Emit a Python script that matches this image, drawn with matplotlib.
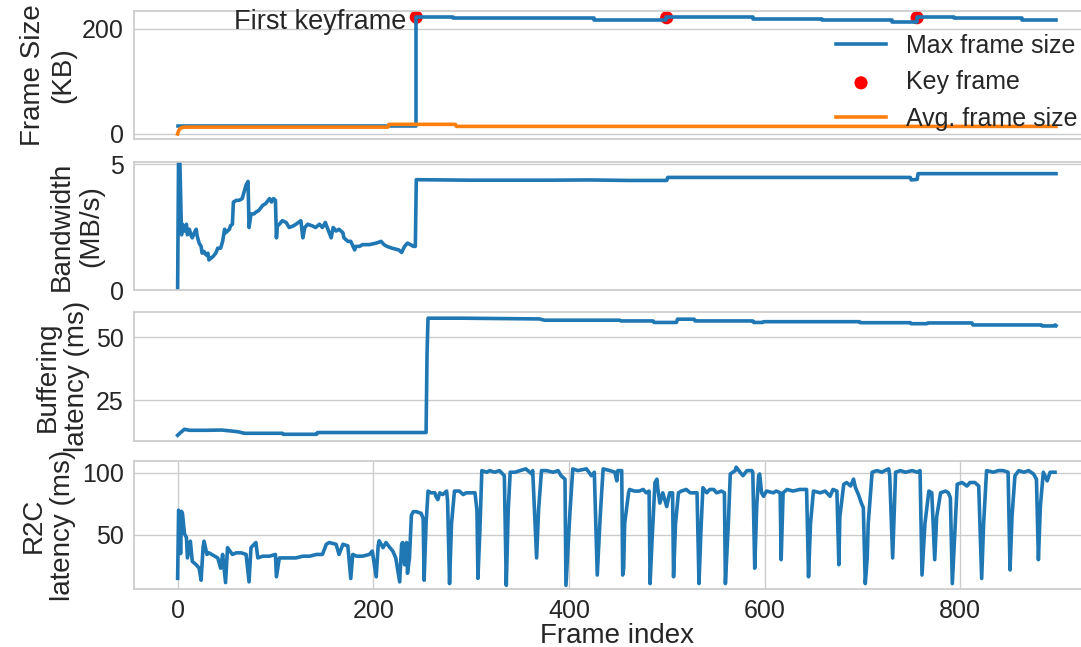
import matplotlib
matplotlib.use("Agg")
import matplotlib.pyplot as plt

# ---------------- data ----------------
# Max frame size: change points (frame index, KB) drawn as steps
max_frame_idx = [0, 244, 282, 426, 499, 588, 659, 730, 756, 794, 863, 898]
max_frame_kb = [15, 222.7, 220.8, 216.2, 222.0, 218.8, 216.2, 213.0, 222.7, 220.0, 217.5, 217.5]

# Key frames
key_frame_idx = [244, 500, 756]
key_frame_kb = [222, 221, 221]

# Average frame size
avg_frame_idx = [0, 1, 2, 3, 5, 8, 215, 216, 284, 285, 898]
avg_frame_kb = [0, 6, 9, 11, 12.5, 13, 13, 18.3, 18.3, 14.4, 14.4]

# Bandwidth (MB/s)
bw_idx = [0, 1, 2, 4, 5, 7, 9, 10, 12, 14, 15, 17, 19, 20, 22, 24, 25, 27, 29, 31, 32, 34, 36,
          39, 41, 44, 46, 48, 49, 53, 54, 56, 57, 60, 63, 66, 68, 70, 72, 73, 75, 78, 80, 83, 87,
          90, 94, 96, 98, 100, 101, 102, 104, 107, 111, 114, 118, 121, 126, 128, 130, 133, 138,
          141, 145, 148, 150, 151, 155, 157, 159, 162, 165, 169, 170, 174, 177, 181, 182, 186,
          189, 196, 203, 208, 211, 214, 219, 226, 229, 232, 235, 238, 241, 243, 244, 300, 380,
          420, 460, 500, 501, 749, 750, 756, 757, 898]
bw_mbs = [0, 5.6, 5.6, 2.2, 2.62, 2.35, 2.62, 2.2, 2.42, 2.15, 2.08, 2.28, 2.42, 2.15, 1.87, 1.74,
          1.47, 1.54, 1.40, 1.47, 1.2, 1.27, 1.33, 1.47, 1.67, 1.67, 1.94, 2.42, 2.28, 2.42, 2.56,
          2.62, 3.5, 3.57, 3.57, 3.64, 3.91, 4.18, 4.32, 2.49, 3.03, 3.03, 3.1, 3.17, 3.37, 3.44,
          3.64, 3.5, 3.64, 3.57, 2.08, 2.55, 2.62, 2.76, 2.69, 2.49, 2.55, 2.62, 2.76, 2.08, 2.49,
          2.62, 2.55, 2.49, 2.62, 2.49, 2.62, 2.69, 2.28, 2.08, 2.49, 2.35, 2.42, 2.28, 2.08, 1.94,
          1.94, 1.6, 1.74, 1.74, 1.81, 1.81, 1.87, 1.94, 1.81, 1.74, 1.67, 1.6, 1.5, 1.74, 1.87,
          1.81, 1.74, 1.74, 4.39, 4.37, 4.37, 4.38, 4.36, 4.36, 4.48, 4.48, 4.38, 4.40, 4.63, 4.63]

# Buffering latency (ms)
buf_idx = [0, 3, 7, 12, 30, 45, 55, 62, 68, 107, 108, 142, 143, 254, 255, 256, 290, 370, 375,
           452, 453, 486, 487, 510, 511, 528, 529, 588, 589, 598, 599, 697, 698, 749, 750, 766,
           767, 812, 813, 883, 884, 896, 897, 898]
buf_ms = [10.9, 12.0, 13.3, 12.9, 12.9, 13.0, 12.6, 12.3, 11.7, 11.7, 11.3, 11.3, 12.0, 12.0,
          44.0, 57.7, 57.7, 57.4, 56.9, 56.9, 56.6, 56.6, 56.0, 56.0, 57.3, 57.3, 56.6, 56.6,
          56.0, 56.0, 56.3, 56.3, 55.9, 55.9, 55.5, 55.5, 55.8, 55.8, 55.0, 55.0, 54.6, 54.6,
          55.0, 54.7]

# R2C latency (ms)
r2c_idx = [0, 1, 2, 3, 4, 5, 7, 9, 10, 13, 15, 19, 22, 24, 26, 27, 30, 32, 38, 41, 44, 46, 49,
           51, 56, 60, 65, 70, 73, 75, 80, 82, 87, 94, 100, 101, 104, 111, 121, 128, 135, 142,
           148, 152, 155, 162, 165, 169, 174, 177, 179, 183, 189, 196, 199, 203, 205, 206, 210,
           213, 217, 220, 223, 227, 229, 230, 232, 234, 235, 237, 239, 241, 244, 249, 251, 252,
           254, 256, 259, 263, 264, 266, 268, 271, 275, 276, 278, 280, 283, 288, 292, 295, 299,
           304, 306, 307, 309, 311, 316, 319, 324, 329, 334, 336, 338, 340, 345, 350, 356, 362,
           363, 367, 369, 372, 377, 384, 389, 392, 396, 397, 401, 404, 409, 418, 423, 426, 429,
           432, 435, 442, 447, 449, 450, 454, 455, 456, 457, 461, 462, 467, 472, 476, 479, 482,
           483, 485, 488, 490, 491, 493, 496, 500, 503, 506, 507, 509, 512, 515, 520, 524, 529,
           531, 533, 535, 537, 541, 544, 548, 551, 556, 559, 560, 563, 565, 570, 571, 575, 578,
           582, 587, 588, 590, 592, 594, 595, 597, 599, 602, 609, 612, 616, 617, 619, 623, 629,
           636, 643, 645, 647, 650, 657, 662, 667, 670, 674, 676, 677, 681, 684, 688, 691, 693,
           696, 699, 701, 703, 705, 706, 710, 715, 720, 723, 727, 728, 731, 734, 739, 744, 751,
           756, 759, 761, 764, 768, 771, 774, 776, 780, 785, 788, 790, 792, 795, 797, 802, 807,
           810, 815, 819, 822, 824, 827, 834, 839, 844, 849, 851, 853, 856, 860, 865, 870, 875,
           878, 880, 882, 885, 889, 892, 897]
r2c_ms = [15, 70, 66, 35, 69, 67, 51, 48, 31.5, 45, 28.7, 26, 23.2, 13.5, 39.8, 45, 34.3, 35.6,
          32.9, 31.5, 23.2, 34.3, 11.6, 39.8, 34.3, 35.6, 35.6, 34.3, 12.2, 39.8, 43.9, 31.5,
          32.9, 32.9, 34.3, 16.3, 31.5, 31.5, 31.5, 32.9, 32.9, 34.3, 34.3, 42.5, 43.9, 42.5,
          34.3, 42.5, 41.2, 14.9, 34.3, 32.9, 32.9, 34.3, 37, 16.3, 41.2, 45.3, 39.8, 43.9, 39.8,
          37, 31.5, 12.2, 42.5, 43.9, 26, 43.9, 19.1, 31.5, 66, 68.8, 68.8, 67.4, 63.3, 13.5,
          59.1, 85.4, 84, 84, 81.2, 78.5, 84, 82.6, 85.4, 77.1, 10.8, 59.1, 85.4, 85.4, 82.6, 84,
          84, 84, 70, 15, 53.6, 101.9, 100.6, 101.9, 100.6, 101.9, 97.8, 9.4, 70.2, 100.6, 100.6,
          101.9, 103.3, 99.2, 101.9, 31.5, 70.2, 101.9, 101.9, 100.6, 101.9, 97.8, 95, 9.4, 67.4,
          103.3, 101.9, 103.3, 97.8, 100.6, 17.7, 64.6, 103.3, 101.9, 100.6, 93.6, 101.9, 101.9,
          17.7, 23.2, 59.1, 84, 86.7, 85.4, 85.4, 86.7, 84, 85.4, 10.8, 45.3, 92.3, 95, 86.7,
          75.7, 84, 72.9, 84, 84, 16.3, 59.1, 84, 85.4, 86.7, 84, 84, 84, 10.8, 53.6, 88.1, 84,
          86.7, 86.7, 84, 85.4, 84, 10.8, 59.1, 99.2, 101.9, 104.7, 100.6, 97.8, 101.9, 101.9,
          100.6, 23.2, 72.9, 97.8, 99.2, 84, 81.2, 85.4, 84, 85.4, 84, 30.1, 84, 86.7, 85.4, 86.7,
          86.7, 16.3, 59.1, 85.4, 84, 85.4, 81.2, 86.7, 85.4, 26, 64.6, 90.9, 92.3, 89.5, 95,
          88.1, 82.6, 75.7, 72, 10.8, 31.5, 59.1, 100.6, 101.9, 100.6, 101.9, 103.3, 97.8, 31.5,
          100.6, 101.9, 100.6, 101.9, 100.6, 101.9, 17.7, 59.1, 85.4, 84, 30.1, 64.6, 84, 85.4,
          84, 80, 10.8, 59.1, 90.9, 92.3, 89.5, 92.3, 92.3, 89.5, 14.9, 59.1, 101.9, 100.6,
          101.9, 101.9, 100.6, 21.8, 64.6, 97.8, 101.9, 100.6, 101.9, 99.2, 95, 30.1, 72.9,
          100.6, 93.6, 100.6, 100.6]

frame_ticks = [0, 200, 400, 600, 800]
size_ticks = [0, 200]
bw_ticks = [0, 5]
buf_ticks = [25, 50]
r2c_ticks = [50, 100]

# ---------------- style ----------------
plt.rcParams.update({
    "font.family": ["Liberation Sans", "DejaVu Sans"],
    "axes.edgecolor": "#cccccc",
    "axes.linewidth": 1.25,
    "grid.color": "#cccccc",
    "grid.linewidth": 1.0,
    "xtick.major.size": 0,
    "ytick.major.size": 0,
    "xtick.major.pad": 7,
    "ytick.major.pad": 7,
    "xtick.color": "#262626",
    "ytick.color": "#262626",
    "text.color": "#262626",
    "axes.labelcolor": "#262626",
})

BLUE = "#1f77b4"
ORANGE = "#ff7f0e"
TICK_FS = 18
LABEL_FS = 20
LW = 2.6

fig = plt.figure(figsize=(10.81, 6.47), dpi=100)
left, width = 0.1236, 0.894
bottoms = [0.7844, 0.5515, 0.3191, 0.0890]
height = 0.198
axes = []
for i, b in enumerate(bottoms):
    ax = fig.add_axes([left, b, width, height], sharex=axes[0] if axes else None)
    ax.set_facecolor("white")
    ax.grid(True, axis="y")
    ax.set_axisbelow(True)
    ax.tick_params(labelsize=TICK_FS)
    axes.append(ax)

ax1, ax2, ax3, ax4 = axes

# Frame size
l1, = ax1.step(max_frame_idx, max_frame_kb, where="post", color=BLUE, lw=LW,
               label="Max frame size", zorder=3)
sc = ax1.scatter(key_frame_idx, key_frame_kb, s=90, color="red", edgecolor="none",
                 label="Key frame", zorder=2)
l2, = ax1.plot(avg_frame_idx, avg_frame_kb, color=ORANGE, lw=LW,
               label="Avg. frame size", zorder=4)
ax1.text(234, 200, "First keyframe", ha="right", va="baseline", fontsize=19.5)
ax1.set_ylim(-10.5, 233)
ax1.set_yticks(size_ticks)
ax1.set_ylabel("Frame Size\n(KB)", fontsize=LABEL_FS)
ax1.legend(handles=[l1, sc, l2], loc="upper right", frameon=False, fontsize=18)

# Bandwidth
ax2.plot(bw_idx, bw_mbs, color=BLUE, lw=LW)
ax2.set_ylim(0, 5.09)
ax2.set_yticks(bw_ticks)
ax2.set_ylabel("Bandwidth\n(MB/s)", fontsize=LABEL_FS)

# Buffering latency
ax3.plot(buf_idx, buf_ms, color=BLUE, lw=LW)
ax3.set_ylim(8.8, 60.0)
ax3.set_yticks(buf_ticks)
ax3.set_ylabel("Buffering\nlatency (ms)", fontsize=LABEL_FS)

# R2C latency
ax4.plot(r2c_idx, r2c_ms, color=BLUE, lw=LW)
ax4.set_ylim(6.1, 109.4)
ax4.set_yticks(r2c_ticks)
ax4.set_ylabel("R2C\nlatency (ms)", fontsize=LABEL_FS)
ax4.grid(True, axis="x")
ax4.set_xlabel("Frame index", fontsize=LABEL_FS, labelpad=0)

ax4.set_xlim(-45, 943)
ax4.set_xticks(frame_ticks)
for ax in (ax1, ax2, ax3):
    ax.tick_params(labelbottom=False)
    ax.grid(False, axis="x")

fig.savefig("out.png", dpi=100)
